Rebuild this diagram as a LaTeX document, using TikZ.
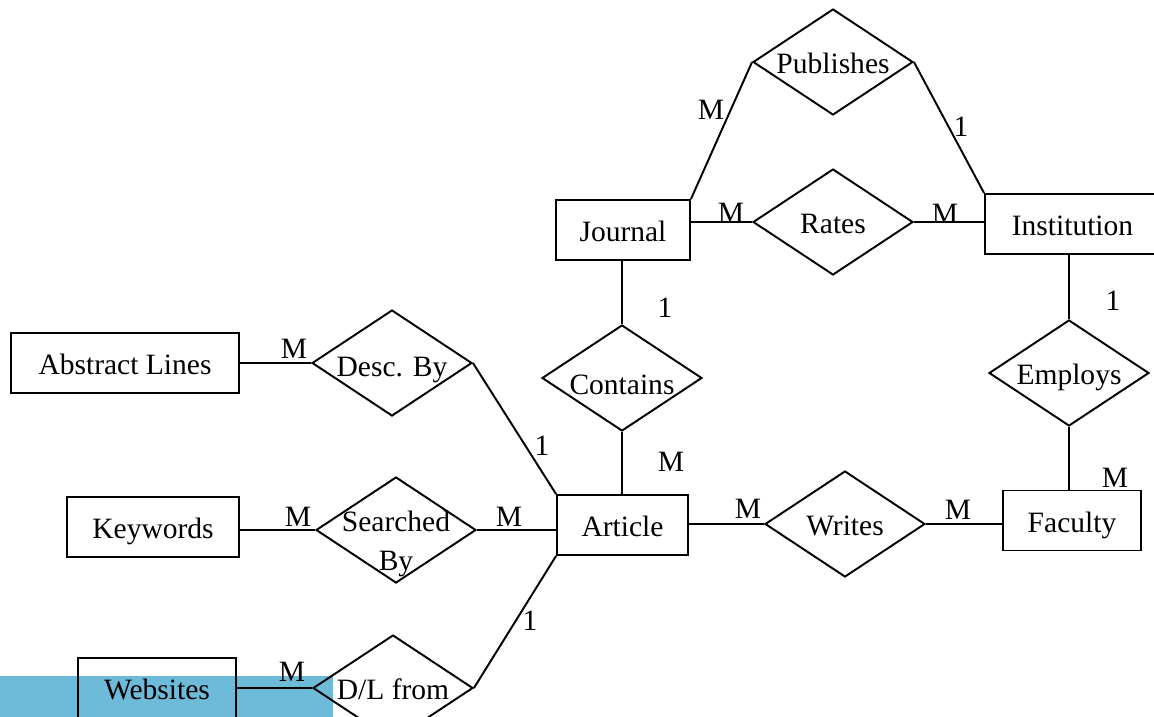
\documentclass[tikz,border=0pt]{standalone}
\usepackage{fontspec}
\setmainfont{Liberation Serif}
\usetikzlibrary{shapes.geometric,positioning}
\definecolor{barblue}{RGB}{110,186,217}

\begin{document}
\begin{tikzpicture}[x=0.02cm,y=-0.02cm,line width=1.1pt,font=\fontsize{16.8}{20}\selectfont]
	\tikzstyle{entity}=[draw,rectangle,minimum height=1.2cm,inner sep=0pt,text height=14pt,text depth=0.4pt]
	\tikzstyle{relation}=[draw,diamond,minimum width=3.2cm,minimum height=2.12cm,inner sep=0pt]
	\tikzstyle{every label}=[inner sep=0pt,text height=14pt,text depth=0.4pt]
	\tikzstyle{card}=[inner sep=0pt]

	\useasboundingbox (0,0) rectangle (1154,717);
	\fill[barblue] (0,676) rectangle (333,717);

	% entities
	\node[entity,minimum width=2.68cm] (J) at (623,230) {Journal};
	\node[entity,minimum width=3.5cm] (I) at (1072.5,224) {Institution};
	\node[entity,minimum width=2.62cm] (A) at (622.5,525) {Article};
	\node[entity,minimum width=2.76cm] (F) at (1072,520.5) {Faculty};
	\node[entity,minimum width=4.56cm] (AL) at (125,363) {Abstract Lines};
	\node[entity,minimum width=3.44cm] (K) at (153,527) {Keywords};
	\node[entity,minimum width=3.16cm] (W) at (157,688) {Websites};

	% relationships
	\node[relation,label=center:Publishes] (P) at (833,62) {};
	\node[relation,label=center:Rates] (R) at (833,222) {};
	\node[relation,label={[yshift=-0.1cm]center:Contains}] (C) at (622,378) {};
	\node[relation,label=center:Employs] (E) at (1069,373) {};
	\node[relation,label={[yshift=-0.04cm]center:Desc. By}] (D) at (392,363) {};
	\node[relation,label={[align=center,yshift=-0.28cm,text height=,text depth=,font=\fontsize{16.8}{22.5}\selectfont]center:Searched\\By}] (S) at (396,530) {};
	\node[relation,label=center:Writes] (WR) at (845,524) {};
	\node[relation,label=center:D/L from] (DL) at (393,688) {};

	\path (J.north east) edge (P.west);
	\path (P.east) edge (I.north west);
	\path (J.east |- R.west) edge (R.west);
	\path (R.east) edge (R.east -| I.west);
	\path (C.north |- J.south) edge (C.north);
	\path (C.south) edge (C.south |- A.north);
	\path (E.north |- I.south) edge (E.north);
	\path (E.south) edge (E.south |- F.north);
	\path (WR.west -| A.east) edge (WR.west);
	\path (WR.east) edge (WR.east -| F.west);
	\path (AL.east) edge (D.west);
	\path (D.east) edge (A.north west);
	\path (S.west -| K.east) edge (S.west);
	\path (S.east) edge (S.east -| A.west);
	\path (DL.east) edge (A.south west);
	\path (W.east) edge (DL.west);

	% cardinalities
	\node[card] (m1) at (711,110) {M};
	\node[card] (n1) at (961,127) {1};
	\node[card] (m2) at (731,213) {M};
	\node[card] (m3) at (945,214) {M};
	\node[card] (n2) at (665,308) {1};
	\node[card] (m4) at (671,462) {M};
	\node[card] (n3) at (1113,301) {1};
	\node[card] (m5) at (1115,478) {M};
	\node[card] (m6) at (748,509) {M};
	\node[card] (m7) at (958,510) {M};
	\node[card] (m8) at (294,349) {M};
	\node[card] (n4) at (542,446) {1};
	\node[card] (m9) at (298,517) {M};
	\node[card] (m10) at (509,517) {M};
	\node[card] (n5) at (530,621) {1};
	\node[card] (m11) at (292,672) {M};
\end{tikzpicture}
\end{document}
